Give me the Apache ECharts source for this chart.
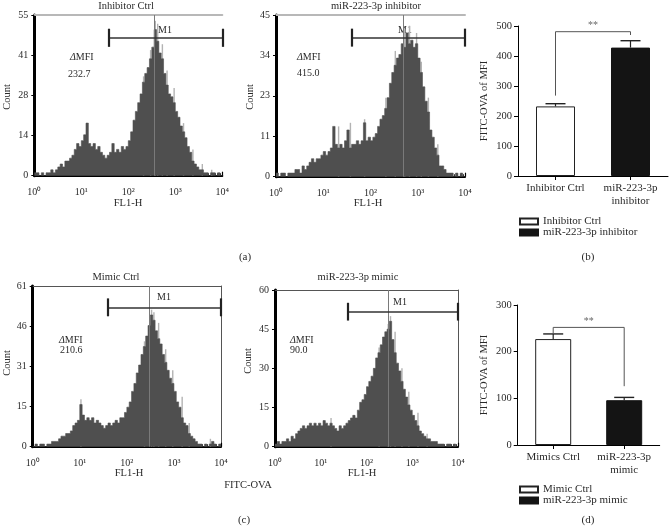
<!DOCTYPE html>
<html>
<head>
<meta charset="utf-8">
<script src="https://cdn.jsdelivr.net/npm/echarts@6/dist/echarts.min.js"></script>
<style>html,body{margin:0;padding:0;background:#fff;}#chart{width:670px;height:527px;}</style>
</head>
<body>
<div id="chart"></div>
<script>
// ---------------- data ----------------
const binsPerDecade = 20;               // histogram bins per decade, 10^0 .. 10^4
const xTickLabels = ['10⁰','10¹','10²','10³','10⁴'];

const histTitles = ['Inhibitor Ctrl','miR-223-3p inhibitor','Mimic Ctrl','miR-223-3p mimic'];
const deltaMFI = ['232.7','415.0','210.6','90.0'];

const countsInhibitorCtrl = [1,1,0,1,0,1, 1,2,1,2, 3,4,3,5, 5,6, 7,9, 11,10, 12,14, 18, 11,10,11,9,10, 8,7,6,7, 8,11,8, 9,8,10,9,10, 12,15, 19,22,25, 28,32,35, 37,40,44, 50,46, 42,40, 35,31,28, 27,25,22, 20,17, 15,13, 10,8, 5,4, 3,2,2, 1,1,0,1,1,0,1,0];
const countsInhibitor = [1,0,1,1,0,1,1,1,2, 2,1,3,2,3, 4,5,4,5,5, 6,7,6,7, 8,14,9,8, 9,8,10,13,8,9, 9,10,9,10,15, 10,11,10,11, 12,14,16,17,19, 22,26,29, 31,33, 34,37,36, 40,37,38, 36,37,33, 29,25, 21,18, 13,11, 8,6, 3,3,2, 1,1,1,0,1,0,1,0];
const countsMimicCtrl = [0,1,0,1,1,0,1, 1,2,2,2, 3,4,4,5,5, 6,8,9,10, 16,12,10,11, 10,11,9,10,9, 8,7,8,9,8, 9,10,9,11,11, 13,15,17, 21,24,28,31, 35,38,42, 46,50,48, 44,41,39, 35,32,29, 26,24,21, 17,15, 11,9,8, 5,4,3, 2,1,1,0,1,0,1,2,1,0,1];
const countsMimic = [1,2,1,2,2, 3,2,4,3,5, 6,7,8,7, 8,9,8,9,8,9, 8,10,9,8,9,8, 7,6,8,7,8, 9,10,11,12,11, 14,17,18,20, 23,25,27, 30,34,36, 39,42,44, 45,48,41, 36,32,29, 25,22,19, 16,14,12, 10,8, 6,5,4, 3,3,2,2,2,1, 1,1,0,1,1,0,1,0];
const histCounts = [countsInhibitorCtrl, countsInhibitor, countsMimicCtrl, countsMimic];

// light-grey overlay spikes: [bin index, count]
const spikesInhibitorCtrl = [[46,34],[49,43],[51,53],[52,52],[54,45],[56,36],[59,30],[63,18],[67,9],[71,4],[75,2]];
const spikesInhibitor = [[26,14],[31,15],[37,16],[46,22],[50,35],[54,41],[56,42],[59,40],[61,32],[64,22],[68,9]];
const spikesMimicCtrl = [[20,18],[47,40],[50,52],[51,51],[53,47],[56,37],[59,29],[63,19],[66,9],[75,3]];
const spikesMimic = [[24,11],[45,38],[49,47],[50,50],[52,44],[55,30],[58,21],[62,13],[66,5]];
const histSpikes = [spikesInhibitorCtrl, spikesInhibitor, spikesMimicCtrl, spikesMimic];

const yMax = [55, 45, 61, 60];
const yTickLabels1 = ['0','14','28','41','55'];
const yTickLabels2 = ['0','11','23','34','45'];
const yTickLabels3 = ['0','15','31','46','61'];
const yTickLabels4 = ['0','15','30','45','60'];
const yTickLabels = [yTickLabels1, yTickLabels2, yTickLabels3, yTickLabels4];

const gateStart = [39, 40.6, 39.2, 39.4];     // M1 gate start (FL1-H)
const gateLevel = [47.2, 38.7, 52.9, 51.7];   // height of the M1 bar (count)
const medianLine = [352, 487, 296, 295];      // vertical marker (FL1-H)

const catB = ['Inhibitor Ctrl', 'miR-223-3p\ninhibitor'];
const meanB = [232, 428];
const errB = [9, 23];
const sigB = [268, 481, 470];   // bracket: left end, top, right end
const legendB = ['Inhibitor Ctrl', 'miR-223-3p inhibitor'];

const catD = ['Mimics Ctrl', 'miR-223-3p\nmimic'];
const meanD = [227, 96];
const errD = [11, 6];
const sigD = [239, 252, 126];
const legendD = ['Mimic Ctrl', 'miR-223-3p mimic'];

// ---------------- layout / style ----------------
const FONT = 'Liberation Serif';
const TXT = '#2a2a2a';
const HIST = '#4f4f4f';
const histGrids = [
  {left:34.3, top:15, width:188, height:160.7},
  {left:276, top:15, width:189, height:161.7},
  {left:32.7, top:286, width:188.3, height:160.7},
  {left:275, top:290, width:183, height:156.7}
];
const topBorder = [{color:'#b8b8b8', width:2},{color:'#b8b8b8', width:2},{color:'#555', width:1},{color:'#555', width:1}];
const rightBorder = [null, null, {color:'#555', width:1}, {color:'#555', width:1}];
const capHalf = [3.1, 2.5, 3.4, 3.4];

const minorTicks = [];
for (let d = 0; d < 4; d++) for (let m = 2; m <= 9; m++) minorTicks.push(m * Math.pow(10, d));

const grid = [], xAxis = [], yAxis = [], series = [];

histGrids.forEach((g, k) => {
  grid.push(Object.assign({containLabel:false}, g));
  const xi = xAxis.length, yi = yAxis.length;
  xAxis.push({gridIndex:k, type:'log', logBase:10, min:1, max:10000, position:'bottom',
    axisLine:{show:true, onZero:false, lineStyle:{color:'#000', width:2}},
    axisTick:{show:true, inside:true, length:4, lineStyle:{color:'#000', width:1.2}},
    axisLabel:{show:true, margin:12, fontFamily:FONT, fontSize:10, color:TXT,
      formatter: v => xTickLabels[Math.round(Math.log10(v))]},
    splitLine:{show:false}});
  xAxis.push({gridIndex:k, type:'log', logBase:10, min:1, max:10000, position:'bottom',
    axisLine:{show:false, onZero:false}, axisTick:{show:true, inside:true, length:2.5, customValues:minorTicks, lineStyle:{color:'#000', width:0.8}},
    axisLabel:{show:false}, splitLine:{show:false}});
  xAxis.push({gridIndex:k, type:'log', logBase:10, min:1, max:10000, position:'top',
    axisLine:{show:true, onZero:false, lineStyle:topBorder[k]}, axisTick:{show:false}, axisLabel:{show:false}, splitLine:{show:false}});
  const iv = yMax[k] / 4;
  yAxis.push({gridIndex:k, type:'value', min:0, max:yMax[k], interval:iv, position:'left',
    axisLine:{show:true, onZero:false, lineStyle:{color:'#000', width:3}},
    axisTick:{show:true, length:3, lineStyle:{color:'#000', width:1}},
    axisLabel:{show:true, margin:6, fontFamily:FONT, fontSize:10, color:TXT,
      formatter: v => yTickLabels[k][Math.round(v / iv)]},
    splitLine:{show:false}});
  yAxis.push({gridIndex:k, type:'value', min:0, max:yMax[k], position:'right',
    axisLine:{show:!!rightBorder[k], onZero:false, lineStyle:rightBorder[k] || {}}, axisTick:{show:false}, axisLabel:{show:false}, splitLine:{show:false}});

  series.push({type:'line', xAxisIndex:xi, yAxisIndex:yi, data:[], z:1, clip:false, silent:true,
    markLine:{symbol:'none', silent:true, animation:false, label:{show:false},
      lineStyle:{color:'#7a7a7a', width:1, type:'solid'}, data:[{xAxis:medianLine[k]}]}});
  series.push({type:'custom', xAxisIndex:xi, yAxisIndex:yi, z:1, silent:true, animation:false,
    data: histSpikes[k].map(([b, v]) => [Math.pow(10, (b + 0.5) / binsPerDecade), v]), encode:{x:0, y:1},
    renderItem: (p, api) => {
      const t = api.coord([api.value(0), api.value(1)]);
      const b = api.coord([api.value(0), 0]);
      return {type:'rect', shape:{x:t[0] - 0.7, y:t[1], width:1.4, height:b[1] - t[1]}, style:{fill:'#b3b3b3'}};
    }});
  const counts = histCounts[k];
  const data = counts.map((c, i) => [Math.pow(10, i / binsPerDecade), c]);
  data.push([10000, counts[counts.length - 1]]);
  series.push({type:'line', xAxisIndex:xi, yAxisIndex:yi, data, step:'end', symbol:'none', z:2,
    silent:true, animation:false, lineStyle:{color:HIST, width:0.6}, areaStyle:{color:HIST, opacity:1}});
  const lv = gateLevel[k], c = capHalf[k], s = gateStart[k];
  series.push({type:'line', xAxisIndex:xi, yAxisIndex:yi, data:[], z:4, clip:false, silent:true,
    markLine:{symbol:'none', silent:true, animation:false, label:{show:false},
      lineStyle:{color:'#333', width:1.5, type:'solid'},
      data:[
        [{coord:[s, lv]}, {coord:[10000, lv]}],
        [{coord:[s, lv - c], lineStyle:{width:2.2, color:'#222'}}, {coord:[s, lv + c]}],
        [{coord:[10000, lv - c], lineStyle:{width:2.2, color:'#222'}}, {coord:[10000, lv + c]}]
      ]}});
});

function barPanel(gIndex, gridBox, cats, mean, err, sig, legendNames, yMaxV, barW) {
  grid.push(Object.assign({containLabel:false}, gridBox));
  const xi = xAxis.length, yi = yAxis.length;
  xAxis.push({gridIndex:gIndex, type:'category', data:cats,
    axisLine:{show:true, onZero:false, lineStyle:{color:'#000', width:1}},
    axisTick:{show:true, alignWithLabel:true, length:4, lineStyle:{color:'#000'}},
    axisLabel:{show:true, margin:6, fontFamily:FONT, fontSize:11, color:TXT, lineHeight:13, interval:0},
    splitLine:{show:false}});
  yAxis.push({gridIndex:gIndex, type:'value', min:0, max:yMaxV, interval:100,
    name:'FITC-OVA of MFI', nameLocation:'middle', nameGap:28, nameRotate:90,
    nameTextStyle:{fontFamily:FONT, fontSize:10.5, color:TXT},
    axisLine:{show:true, lineStyle:{color:'#000', width:1}},
    axisTick:{show:true, length:4, lineStyle:{color:'#000'}},
    axisLabel:{show:true, margin:6, fontFamily:FONT, fontSize:10.5, color:TXT},
    splitLine:{show:false}});
  series.push({type:'bar', name:legendNames[0], xAxisIndex:xi, yAxisIndex:yi, data:[mean[0], '-'],
    barWidth:barW, barGap:'-100%', itemStyle:{color:'#fff', borderColor:'#222', borderWidth:1}, z:2, animation:false});
  series.push({type:'bar', name:legendNames[1], xAxisIndex:xi, yAxisIndex:yi, data:['-', mean[1]],
    barWidth:barW, barGap:'-100%', itemStyle:{color:'#141414', borderColor:'#141414', borderWidth:1}, z:2, animation:false});
  series.push({type:'custom', xAxisIndex:xi, yAxisIndex:yi, z:3, animation:false, silent:true,
    data: mean.map((m, i) => [i, m, m + err[i]]), encode:{x:0, y:[1,2]},
    renderItem: (p, api) => {
      const a = api.coord([api.value(0), api.value(1)]);
      const b = api.coord([api.value(0), api.value(2)]);
      return {type:'group', children:[
        {type:'line', shape:{x1:a[0], y1:a[1], x2:b[0], y2:b[1]}, style:{stroke:'#222', lineWidth:1.2}},
        {type:'line', shape:{x1:b[0]-10, y1:b[1], x2:b[0]+10, y2:b[1]}, style:{stroke:'#222', lineWidth:1.4}}
      ]};
    }});
  series.push({type:'custom', xAxisIndex:xi, yAxisIndex:yi, z:3, animation:false, silent:true,
    data: [[0, 1, sig[0], sig[1], sig[2]]], encode:{x:[0,1], y:[2,3,4]},
    renderItem: (p, api) => {
      const p1 = api.coord([api.value(0), api.value(2)]);
      const p2 = api.coord([api.value(0), api.value(3)]);
      const p3 = api.coord([api.value(1), api.value(3)]);
      const p4 = api.coord([api.value(1), api.value(4)]);
      return {type:'group', children:[
        {type:'polyline', shape:{points:[p1, p2, p3, p4]}, style:{stroke:'#555', lineWidth:1, fill:null}},
        {type:'text', x:(p2[0] + p3[0]) / 2, y:p2[1] - 1, style:{text:'**', fontFamily:FONT, fontSize:10, fill:'#666', align:'center', verticalAlign:'bottom'}}
      ]};
    }});
}
barPanel(4, {left:518, top:26, width:150, height:150}, catB, meanB, errB, sigB, legendB, 500, 39);
barPanel(5, {left:517.7, top:305, width:142, height:140}, catD, meanD, errD, sigD, legendD, 300, 36);

const graphic = [];
function txt(text, x, y, opts) {
  graphic.push(Object.assign({type:'text', x, y, silent:true,
    style:Object.assign({text, fontFamily:FONT, fontSize:10, fill:TXT, align:'center', verticalAlign:'middle'}, (opts && opts.style) || {})},
    (opts && opts.el) || {}));
}
const titlePos = [[126,6],[376,6],[116,277],[358,277]];
const countPos = [[7,97],[250,97],[7,363],[248,361]];
const flPos = [[128,203],[368,203],[129,473],[362,473]];
const dPos = [[70,57],[297,57],[59,340],[290,340]];
const vPos = [[68,74],[297,73],[60,350],[290,350]];
const m1Pos = [[158,30],[398,30],[157,297],[393,302]];
for (let k = 0; k < 4; k++) {
  txt(histTitles[k], titlePos[k][0], titlePos[k][1], {style:{fontSize:10.5}});
  txt('Count', countPos[k][0], countPos[k][1], {style:{fontSize:10.5}, el:{rotation:Math.PI/2}});
  txt('FL1-H', flPos[k][0], flPos[k][1], {style:{fontSize:10.5}});
  txt('{i|Δ}MFI', dPos[k][0], dPos[k][1], {style:{align:'left', rich:{i:{fontStyle:'italic', fontFamily:FONT, fontSize:10, fill:TXT}}}});
  txt(deltaMFI[k], vPos[k][0], vPos[k][1], {style:{align:'left'}});
  txt('M1', m1Pos[k][0], m1Pos[k][1], {style:{align:'left'}});
}
txt('(a)', 245, 257, {style:{fontSize:11}});
txt('(b)', 588, 257, {style:{fontSize:11}});
txt('(c)', 244, 520, {style:{fontSize:11}});
txt('(d)', 588, 520, {style:{fontSize:11}});
txt('FITC-OVA', 248, 485, {style:{fontSize:10.5}});

const legendCommon = {orient:'vertical', padding:0, itemGap:0, itemWidth:18, itemHeight:6, icon:'rect',
  textStyle:{fontFamily:FONT, fontSize:11, color:TXT, lineHeight:10}, selectedMode:false};

const chart = echarts.init(document.getElementById('chart'), null, {renderer:'canvas'});
chart.setOption({
  animation:false,
  backgroundColor:'#fff',
  grid, xAxis, yAxis, series, graphic,
  legend:[
    Object.assign({data:legendB, left:519, top:216}, legendCommon),
    Object.assign({data:legendD, left:519, top:484}, legendCommon)
  ]
});
</script>
</body>
</html>
